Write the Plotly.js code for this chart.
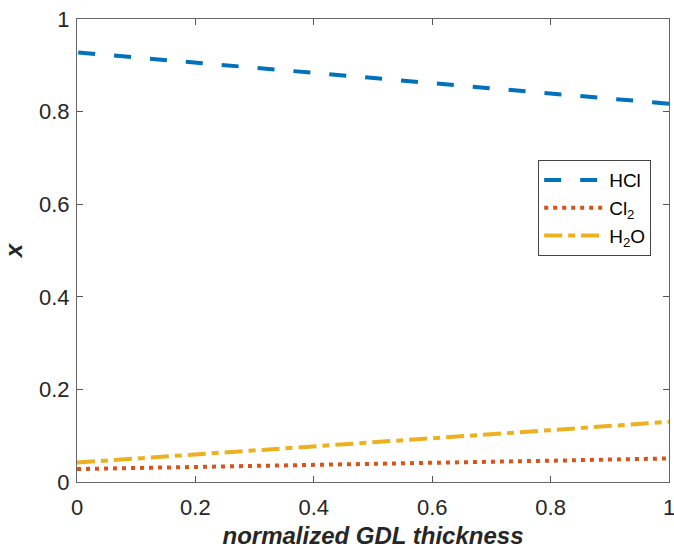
<!DOCTYPE html>
<html>
<head>
<meta charset="utf-8">
<script src="https://cdn.plot.ly/plotly-3.0.1.min.js"></script>
<style>html,body{margin:0;padding:0;background:#fff;}#chart{width:674px;height:549px;}</style>
</head>
<body>
<div id="chart"></div>
<script>
var xVals = [0, 0.2, 0.4, 0.6, 0.8, 1];
var hclVals = [0.928, 0.906, 0.883, 0.861, 0.839, 0.817];
var cl2Vals = [0.028, 0.032, 0.037, 0.041, 0.046, 0.051];
var h2oVals = [0.042, 0.059, 0.077, 0.095, 0.112, 0.130];
var tickVals = [0, 0.2, 0.4, 0.6, 0.8, 1];
var tickText = ['0', '0.2', '0.4', '0.6', '0.8', '1'];

// HCl drawn from the right end so its dash pattern ends like the reference
var traces = [
  {x: xVals.slice().reverse(), y: hclVals.slice().reverse(), name: 'HCl', mode: 'lines', line: {color: '#0072BD', width: 4, dash: '17px,19px'}},
  {x: xVals, y: cl2Vals, name: 'Cl<sub>2</sub>', mode: 'lines', line: {color: '#D95319', width: 4, dash: '4px,5px'}},
  {x: xVals, y: h2oVals, name: 'H<sub>2</sub>O', mode: 'lines', line: {color: '#EDB120', width: 4, dash: '18px,6px,7px,6px'}}
];

var FONT = 'Liberation Sans, Arial, Helvetica, sans-serif';
var axisCommon = {
  range: [0, 1], tickvals: tickVals, ticktext: tickText,
  ticks: 'inside', ticklen: 6, tickcolor: '#555', mirror: 'ticks',
  showline: true, linecolor: '#666', linewidth: 1, showgrid: false, zeroline: false,
  ticklabeloverflow: 'allow',
  tickfont: {family: FONT, size: 22, color: '#262626'}
};

var layout = {
  width: 674, height: 549,
  margin: {l: 77, r: 5, t: 19, b: 67},
  paper_bgcolor: '#fff', plot_bgcolor: '#fff',
  xaxis: Object.assign({}, axisCommon, {
    ticklabelstandoff: 6,
    title: {text: '<b><i>normalized GDL thickness</i></b>', standoff: 8,
      font: {family: FONT, size: 24, color: '#262626'}}
  }),
  yaxis: Object.assign({}, axisCommon, {
    ticklabelstandoff: 2,
    title: {text: '<b><i>x</i></b>', standoff: 12,
      font: {family: FONT, size: 24, color: '#262626'}}
  }),
  showlegend: true,
  legend: {x: 0.779, y: 0.695, xanchor: 'left', yanchor: 'top',
    bgcolor: '#fff', bordercolor: '#444', borderwidth: 1,
    font: {family: FONT, size: 19, color: '#000'},
    itemwidth: 60}
};

Plotly.newPlot('chart', traces, layout, {displayModeBar: false, staticPlot: true});
</script>
</body>
</html>
